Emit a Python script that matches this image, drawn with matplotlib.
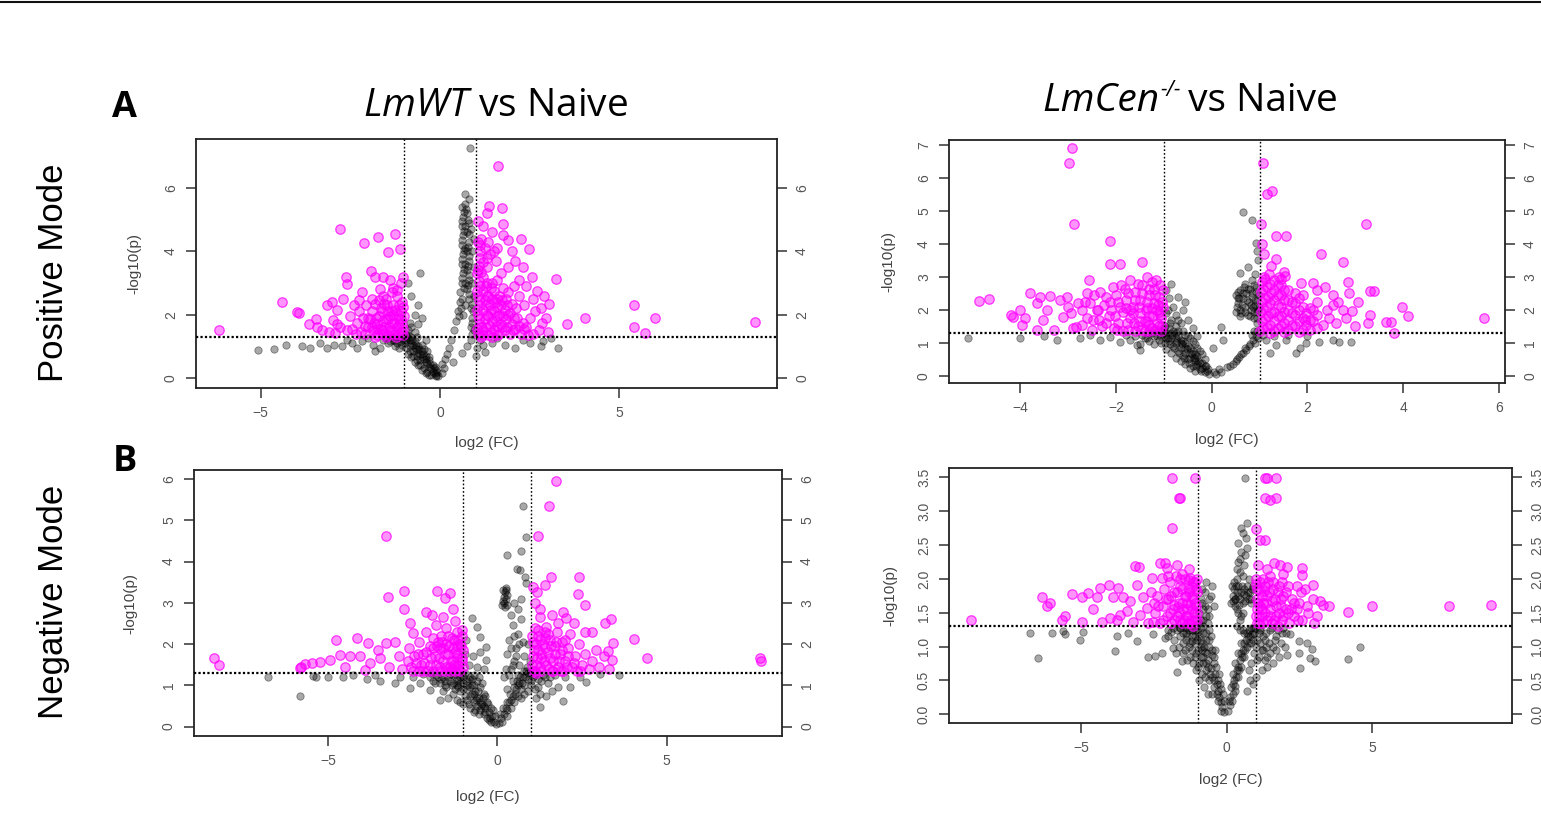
import matplotlib
matplotlib.use("Agg")
import matplotlib.pyplot as plt
from matplotlib.lines import Line2D
from matplotlib.ticker import FormatStrFormatter

# ---------------- data (log2 FC, -log10 p) ----------------
# Panel A: LmWT vs Naive, positive mode
pa_pink = [(-6.17,1.52),(-4.4,2.39),(-3.98,2.07),(-3.92,2.05),(-3.65,1.7),(-3.45,1.85),(-3.43,1.6),(-3.16,2.3),(-3.02,2.39),(-2.88,1.7),
 (-2.79,4.7),(-2.11,4.27),(-1.72,4.45),(-1.25,4.54),(-1.46,3.97),(-1.11,4.06),(-1.02,3.2),(-2.62,3.18),(-2.6,2.97),(-1.93,3.39),
 (-1.81,3.18),(-1.58,3.2),(-1.39,3.1),(-2.18,2.73),(-1.67,2.81),(-1.21,2.78),(-2.88,2.15),(-2.69,2.5),(-2.41,2.3),(-2.27,2.46),
 (-2.51,1.94),(-2.97,1.83),(-2.78,1.62),(-2.32,1.73),(-2.92,1.41),(-3.3,1.5),(-3.1,1.45),(-2.6,1.5),(-2.45,1.55),(-2.2,1.45),
 (-2.1,1.4),(-2.0,1.6),(-1.95,1.85),(-1.9,2.1),(-1.85,1.5),(-1.8,2.35),(-1.75,1.7),(-1.7,1.95),(-1.65,2.2),(-1.6,1.4),
 (-1.55,1.6),(-1.5,1.85),(-1.5,2.5),(-1.45,2.1),(-1.4,1.5),(-1.35,1.75),(-1.3,2.0),(-1.3,2.3),(-1.25,1.4),(-1.2,1.6),
 (-1.2,2.6),(-1.15,1.85),(-1.1,2.1),(-1.1,1.45),(-1.05,1.7),(-1.05,2.4),(-1.02,1.35),(-1.0,1.95),(-1.35,2.7),(-1.6,2.6),
 (-1.9,2.5),(-2.05,2.3),(-1.75,1.35),(-1.15,2.3),(-1.45,1.35),(-1.25,2.15),(-1.55,2.35),(-1.85,1.75),(-2.15,1.9),(-1.65,1.55),
 (-1.1,3.0),(-1.3,2.85),(-1.7,2.45),(-1.4,1.95),
 (-1.03,1.55),(-1.08,1.85),(-1.03,2.25),(-1.18,1.4),(-1.15,1.7),(-1.18,2.0),(-1.3,1.45),(-1.28,1.75),(-1.33,2.1),(-1.42,1.6),
 (-1.45,1.85),(-1.48,2.3),(-1.58,1.5),(-1.6,1.8),(-1.62,2.1),(-1.72,1.55),(-1.78,1.9),(-1.9,1.6),(-2.0,1.9),(-2.1,1.65),
 (-1.22,1.3),(-1.5,1.3),(-1.8,1.3),(-2.25,2.1),(-2.35,1.4),
 (1.61,6.69),(1.37,5.43),(1.72,5.36),(1.3,5.2),(1.75,4.85),(2.26,4.38),(2.48,4.06),(1.75,4.5),(3.23,3.11),(3.53,1.69),
 (3.04,2.32),(5.41,2.3),(5.41,1.62),(5.72,1.43),(5.98,1.88),(8.78,1.76),(4.05,1.88),(2.95,1.88),(3.02,1.45),(2.75,1.5),
 (2.6,1.4),(1.9,4.35),(2.1,3.7),(2.0,4.0),(2.3,3.5),(2.55,3.2),(2.4,2.9),(2.7,2.75),(2.6,2.5),(2.8,2.2),
 (2.9,2.6),(2.5,1.9),(2.65,2.1),(2.35,2.3),(2.2,2.6),(2.4,1.6),(2.85,1.75),(2.2,3.1),(1.9,3.5),(2.05,2.9),
 (1.6,4.1),(1.45,4.6),(1.2,4.8),(1.15,4.4),(1.25,4.1),(1.4,3.9),(1.55,3.7),(1.1,3.8),(1.3,3.5),(1.7,3.3),
 (1.2,3.2),(1.45,3.0),(1.05,1.4),(1.1,1.7),(1.05,2.0),(1.1,2.3),(1.05,2.6),(1.1,2.9),(1.2,1.5),(1.25,1.85),
 (1.2,2.15),(1.25,2.45),(1.2,2.75),(1.35,1.35),(1.4,1.65),(1.35,1.95),(1.4,2.3),(1.35,2.6),(1.5,1.5),(1.55,1.8),
 (1.5,2.1),(1.55,2.4),(1.5,2.75),(1.65,1.4),(1.7,1.7),(1.65,2.0),(1.7,2.3),(1.65,2.6),(1.8,1.5),(1.85,1.85),
 (1.8,2.15),(1.85,2.5),(1.95,1.4),(2.0,1.7),(1.95,2.05),(2.0,2.35),(2.1,1.55),(2.15,1.9),(2.25,1.4),(2.3,1.75),
 (1.75,2.85),(1.6,3.1),(1.3,3.0),(1.9,2.7),(1.15,1.3),(1.45,1.3),(2.45,1.35),(1.05,4.95),(1.1,4.2),(1.05,3.4),
 (1.02,1.55),(1.08,1.85),(1.02,2.15),(1.08,2.45),(1.02,2.75),(1.08,3.05),(1.02,3.3),(1.08,3.55),(1.15,3.35),(1.18,1.35),
 (1.15,1.6),(1.28,1.6),(1.3,2.0),(1.28,2.3),(1.3,2.6),(1.28,2.9),(1.42,1.45),(1.45,1.8),(1.42,2.15),(1.45,2.5),
 (1.42,2.85),(1.58,1.35),(1.6,1.65),(1.58,1.95),(1.6,2.25),(1.58,2.5),(1.72,1.6),(1.75,1.95),(1.72,2.45),(1.88,1.6),
 (1.9,2.0),(1.88,2.3),(2.02,1.5),(2.05,1.9),(2.12,2.2),(2.2,1.65),(2.35,1.55),(1.12,4.0),(1.2,3.65),(1.05,4.3),
 (1.35,4.3),(1.5,4.0),(1.3,3.8)]
pa_gray = [(-0.05,0.05),(-0.1,0.1),(-0.15,0.15),(-0.2,0.2),(-0.1,0.25),(-0.25,0.3),(-0.3,0.35),(-0.2,0.4),(-0.35,0.45),(-0.4,0.5),
 (-0.3,0.55),(-0.45,0.6),(-0.5,0.65),(-0.4,0.7),(-0.55,0.75),(-0.6,0.8),(-0.5,0.85),(-0.65,0.9),(-0.7,0.95),(-0.6,1.0),
 (-0.75,1.05),(-0.8,1.1),(-0.7,1.15),(-0.85,1.2),(-0.9,1.25),(-0.8,1.3),(-0.95,1.35),(-1.0,1.2),(-1.1,1.3),(-1.05,1.05),
 (-0.95,0.95),(-0.85,0.85),(-0.75,0.7),(-0.65,0.55),(-0.55,0.4),(-0.45,0.3),(-0.35,0.2),(-0.25,0.1),(-1.2,1.1),(-1.3,1.2),
 (-1.15,0.95),(-1.4,1.15),(-1.25,1.0),(-0.9,1.5),(-0.8,1.6),(-0.7,1.45),(-0.6,1.7),(-0.85,1.75),(-0.5,1.9),(-0.7,2.0),
 (-0.6,2.3),(-0.8,2.6),(-0.55,3.3),(-0.9,3.0),(-0.15,0.35),(-0.3,0.65),(-0.5,1.05),(-0.4,1.2),(-0.65,1.3),
 (-0.08,0.2),(-0.18,0.3),(-0.12,0.05),(-0.28,0.45),(-0.38,0.6),(-0.48,0.75),(-0.58,0.9),(-0.68,1.05),(-0.78,1.2),(-0.88,1.35),
 (-0.98,1.1),(-1.08,1.15),(-0.9,0.75),(-0.8,0.65),(-0.7,0.5),(-0.6,0.4),(-0.5,0.25),(-0.4,0.15),(-0.3,0.08),(-0.55,0.55),
 (-0.65,0.7),(-0.75,0.85),(-0.85,1.0),(-0.95,1.2),(-1.15,1.25),(-1.35,1.3),(-1.25,1.15),(-1.5,1.25),(-0.45,0.9),(-0.35,0.85),
 (-5.06,0.87),(-4.63,0.9),(-4.28,1.05),(-3.85,1.0),(-3.63,0.95),(-3.35,1.1),(-3.16,0.95),(-2.95,1.05),(-2.74,1.0),(-2.45,1.1),
 (-2.31,0.95),(-2.17,1.15),(-1.88,1.05),(-1.67,0.95),(-1.45,1.1),(-1.6,1.2),(-2.0,1.25),(-2.6,1.2),(-1.8,0.85),
 (0.05,0.15),(0.1,0.3),(0.05,0.45),(0.15,0.6),(0.2,0.75),(0.35,0.5),(0.25,0.95),(0.3,1.2),(0.4,1.5),(0.45,1.8),
 (0.5,2.1),(0.55,2.4),(0.6,0.8),(0.75,1.0),(0.85,1.2),
 (0.55,2.7),(0.6,3.0),(0.65,3.3),(0.6,3.6),(0.65,3.9),(0.6,4.2),(0.65,4.5),(0.6,4.8),(0.65,5.1),(0.6,5.4),
 (0.7,5.5),(0.75,5.2),(0.8,4.9),(0.75,4.6),(0.8,4.3),(0.75,4.0),(0.8,3.7),(0.75,3.4),(0.8,3.1),(0.75,2.8),
 (0.8,2.5),(0.85,2.2),(0.9,1.9),(0.85,1.6),(0.9,1.4),(0.95,2.6),(0.9,3.0),(0.95,3.5),(0.9,4.0),(0.95,4.4),
 (0.85,4.7),(0.7,5.8),(0.8,5.65),(0.83,7.25),(0.7,2.3),(0.65,2.0),(0.7,4.1),(0.7,3.6),(0.7,4.8),(0.7,3.0),
 (0.62,2.5),(0.68,2.85),(0.62,3.15),(0.68,3.45),(0.62,3.75),(0.68,4.05),(0.62,4.35),(0.68,4.65),(0.62,4.95),(0.68,5.25),
 (0.72,5.35),(0.78,5.0),(0.82,4.55),(0.78,4.15),(0.82,3.85),(0.78,3.55),(0.82,3.25),(0.78,2.95),(0.82,2.65),(0.88,2.35),
 (0.92,2.1),(0.88,1.75),(0.95,1.5),(0.58,2.2),(0.52,1.95),
 (1.03,0.95),(1.25,0.83),(1.46,1.1),(1.81,1.05),(2.1,0.95),(2.52,1.1),(2.8,1.0),(3.3,0.95),(2.87,1.15),(1.1,1.2),
 (1.0,0.7),(1.2,1.05),(1.6,1.25),(2.3,1.2),(3.1,1.25)]

# Panel B: LmCen-/- vs Naive, positive mode
pb_pink = [(-4.86,2.28),(-4.65,2.32),(-4.2,1.85),(-4.15,1.79),(-4.01,1.99),(-3.9,1.74),(-3.97,1.54),(-3.8,2.5),(-3.66,2.2),(-3.59,2.4),
 (-3.38,2.42),(-3.45,1.99),(-3.52,1.69),(-3.17,2.3),(-3.03,2.4),(-3.0,2.1),(-3.1,1.79),(-2.93,1.9),(-3.66,1.39),(-2.83,1.49),
 (-2.72,1.54),(-2.65,2.25),(-2.55,2.2),(-2.34,2.55),(-2.37,1.99),(-2.48,1.69),(-2.2,2.4),(-2.06,2.71),(-1.71,2.91),(-1.36,3.01),
 (-1.16,2.91),(-1.92,2.1),(-2.91,6.91),(-2.985,6.47),(-2.88,4.6),(-2.12,4.1),(-2.12,3.39),(-1.91,3.39),(-1.455,3.44),(-2.57,2.9),
 (-3.3,1.4),(-2.9,1.45),(-2.6,1.75),(-2.7,2.0),(-2.45,2.45),(-2.3,1.5),(-2.25,2.15),(-2.15,1.8),(-2.05,1.45),(-2.0,2.45),
 (-1.95,1.6),(-1.9,2.75),(-1.85,1.95),(-1.8,2.3),(-1.75,1.4),(-1.7,1.75),(-1.65,2.1),(-1.6,2.55),(-1.55,1.5),(-1.5,1.9),
 (-1.5,2.3),(-1.45,2.75),(-1.4,1.35),(-1.4,1.65),(-1.35,2.05),(-1.3,2.45),(-1.3,1.8),(-1.25,1.45),(-1.2,2.2),(-1.2,2.65),
 (-1.15,1.6),(-1.1,1.95),(-1.1,2.4),(-1.05,1.35),(-1.05,1.75),(-1.02,2.1),(-1.02,2.6),(-1.6,1.35),(-1.85,1.35),(-2.1,2.0),
 (-1.25,2.85),(-1.55,2.8),(-1.75,2.5),(-1.1,1.5),(-1.3,1.55),(-1.5,1.65),(-1.7,2.0),(-1.15,2.0),(-1.35,2.25),(-1.95,2.25),
 (-2.35,1.7),
 (-1.03,1.5),(-1.08,1.85),(-1.03,2.25),(-1.08,2.75),(-1.18,1.4),(-1.22,1.8),(-1.18,2.45),(-1.32,1.35),(-1.35,1.65),(-1.38,2.0),
 (-1.32,2.65),(-1.48,1.4),(-1.52,2.1),(-1.45,2.5),(-1.62,1.6),(-1.65,1.9),(-1.6,2.3),(-1.78,1.6),(-1.8,2.05),(-1.82,2.65),
 (-1.98,1.4),(-2.02,1.8),(-2.12,2.25),(-2.2,1.6),(-2.4,2.0),(-2.5,1.4),(-2.6,2.5),(-2.8,2.2),(-1.12,2.15),(-1.25,2.05),
 (1.07,6.47),(1.27,5.62),(1.16,5.51),(1.04,4.6),(1.34,4.25),(1.56,4.25),(3.23,4.6),(2.28,3.69),(2.74,3.44),(1.34,3.54),
 (1.25,3.33),(2.85,2.86),(3.3,2.57),(3.4,2.57),(2.87,2.5),(3.65,1.64),(3.75,1.64),(3.26,1.59),(3.3,1.85),(3.81,1.31),
 (2.94,1.98),(2.74,2.0),(2.53,2.45),(2.36,2.71),(2.11,2.81),(1.87,2.81),(1.94,1.69),(2.32,1.54),(2.6,1.59),(2.05,1.39),
 (2.53,2.15),(1.52,3.16),(1.54,3.03),(3.97,2.1),(4.1,1.8),(5.7,1.75),(1.05,4.0),(1.1,3.7),(1.45,2.95),(1.1,3.0),
 (1.02,1.35),(1.05,1.65),(1.03,1.95),(1.05,2.25),(1.03,2.55),(1.05,2.85),(1.15,1.45),(1.18,1.8),(1.15,2.1),(1.18,2.4),
 (1.15,2.7),(1.3,1.35),(1.3,1.65),(1.3,1.95),(1.3,2.3),(1.3,2.6),(1.3,2.9),(1.45,1.5),(1.45,1.8),(1.45,2.1),
 (1.45,2.45),(1.45,2.75),(1.6,1.4),(1.6,1.7),(1.6,2.0),(1.6,2.3),(1.6,2.6),(1.75,1.5),(1.75,1.85),(1.75,2.2),
 (1.75,2.5),(1.9,1.4),(1.9,1.75),(1.9,2.1),(1.9,2.45),(2.05,1.7),(2.05,2.05),(2.2,1.45),(2.2,1.85),(2.2,2.25),
 (2.4,2.0),(2.45,1.75),(2.65,2.25),(2.8,1.75),(3.0,1.5),(3.05,2.25),(2.2,2.6),(1.22,1.3),(1.52,1.33),(1.82,1.33),
 (1.08,1.45),(1.12,1.75),(1.08,2.05),(1.12,2.35),(1.08,2.65),(1.12,2.95),(1.22,1.55),(1.25,1.9),(1.22,2.2),(1.25,2.5),
 (1.22,2.8),(1.38,1.45),(1.38,1.8),(1.38,2.15),(1.38,2.45),(1.38,2.75),(1.52,1.6),(1.52,1.95),(1.52,2.3),(1.52,2.6),
 (1.68,1.55),(1.68,1.9),(1.68,2.25),(1.82,1.65),(1.82,2.0),(1.82,2.35),(1.98,1.55),(1.98,1.9),(2.12,1.65),(2.12,2.0),
 (1.2,3.1),(1.4,3.0)]
pb_gray = [(-0.05,0.05),(-0.1,0.15),(-0.15,0.1),(-0.2,0.25),(-0.25,0.2),(-0.3,0.35),(-0.2,0.4),(-0.35,0.45),(-0.4,0.3),(-0.45,0.55),
 (-0.3,0.6),(-0.5,0.5),(-0.55,0.7),(-0.4,0.75),(-0.6,0.6),(-0.65,0.85),(-0.5,0.9),(-0.7,0.75),(-0.75,1.0),(-0.6,1.05),
 (-0.8,0.9),(-0.85,1.15),(-0.7,1.2),(-0.9,1.05),(-0.95,1.3),(-0.8,1.35),(-1.0,1.2),(-1.05,1.4),(-1.1,1.1),(-0.9,1.45),
 (-0.75,1.5),(-0.6,1.35),(-0.45,1.15),(-0.35,0.95),(-0.25,0.75),(-0.15,0.5),(-0.55,1.25),(-0.65,1.6),(-0.85,1.7),(-0.95,1.9),
 (-0.8,2.1),(-0.9,2.35),(-0.7,2.4),(-0.95,2.6),(-0.6,2.0),(-0.5,1.7),(-0.4,1.45),(-0.75,1.85),(-0.55,2.25),(-0.85,2.8),
 (-0.3,1.2),(-1.2,1.2),(-1.3,1.05),(-1.4,1.15),(-1.5,0.95),(-1.2,0.95),(-1.6,1.2),
 (-0.08,0.2),(-0.12,0.3),(-0.22,0.15),(-0.28,0.45),(-0.32,0.3),(-0.38,0.55),(-0.42,0.65),(-0.48,0.4),(-0.52,0.8),(-0.58,0.55),
 (-0.62,0.95),(-0.68,0.7),(-0.72,1.05),(-0.78,0.85),(-0.82,1.25),(-0.88,0.95),(-0.92,1.15),(-0.98,1.0),(-1.02,1.3),(-1.08,1.25),
 (-1.15,1.35),(-0.65,1.1),(-0.45,0.85),(-0.35,0.65),(-0.55,1.0),(-0.75,1.3),(-0.98,1.5),(-0.88,1.6),(-0.7,1.7),(-0.92,2.0),
 (-0.15,0.3),(-0.25,0.4),(-0.35,0.55),(-0.45,0.7),(-0.55,0.85),(-0.65,1.0),(-0.75,1.15),(-0.85,1.3),(-0.95,1.15),(-1.05,1.0),
 (-0.95,0.8),(-0.85,0.7),(-0.75,0.55),(-0.65,0.45),(-0.55,0.35),(-0.45,0.25),(-0.35,0.15),(-1.1,1.35),(-1.25,1.3),(-1.0,1.45),
 (-0.7,1.35),(-0.5,1.2),(-0.4,1.05),(-0.3,0.85),(-0.2,0.65),(-1.3,1.3),(-1.45,1.25),(-1.15,1.2),
 (-5.1,1.15),(-3.24,1.1),(-2.76,1.15),(-2.34,1.09),(-2.13,1.19),(-1.92,1.04),(-1.71,1.09),(-1.57,0.93),(-1.36,1.14),(-1.5,0.78),
 (-3.5,1.2),(-4.0,1.15),(-2.55,1.25),(-1.8,1.25),
 (0.05,0.1),(0.15,0.2),(0.31,0.27),(0.45,0.37),(0.58,0.58),(0.72,0.78),(0.86,1.09),(0.65,0.7),(0.8,0.95),(0.92,1.2),
 (0.24,1.09),(0.2,1.49),(0.03,0.83),(0.5,0.45),(0.95,1.35),(0.85,1.25),
 (0.1,0.05),(0.2,0.12),(0.38,0.3),(0.52,0.5),(0.62,0.65),(0.7,0.85),(0.78,0.9),(0.9,1.0),(0.96,1.15),(0.88,1.35),
 (0.5,1.95),(0.55,2.2),(0.5,2.45),(0.6,2.6),(0.62,1.9),(0.65,2.35),(0.7,2.1),(0.72,2.5),(0.75,1.85),(0.78,2.25),
 (0.8,2.65),(0.82,2.0),(0.85,2.4),(0.88,1.75),(0.9,2.15),(0.92,2.55),(0.95,1.95),(0.95,2.3),(0.95,1.6),(0.7,2.8),
 (0.85,2.9),(0.9,3.1),(0.6,2.0),(0.68,2.7),(0.55,2.55),(0.88,2.75),(0.98,2.1),(0.58,2.35),
 (0.52,2.1),(0.56,2.35),(0.6,1.8),(0.64,2.15),(0.66,2.5),(0.7,1.95),(0.74,2.3),(0.76,2.65),(0.8,1.8),(0.82,2.15),
 (0.84,2.5),(0.88,1.95),(0.9,2.3),(0.92,2.7),(0.96,2.0),(0.98,2.45),(0.94,1.75),(0.86,2.1),
 (0.65,4.98),(0.84,4.73),(0.93,4.02),(0.97,3.52),(0.76,3.31),(0.59,3.11),(0.95,3.8),
 (1.14,1.09),(1.35,0.93),(1.56,1.09),(1.84,0.83),(1.98,0.99),(2.25,1.04),(2.53,1.09),(2.67,1.04),(2.92,1.04),(1.77,0.68),
 (1.21,0.68),(1.07,1.24),(1.3,1.2),(1.6,1.25),(2.0,1.2)]

# Panel C: LmWT vs Naive, negative mode
pc_pink = [(-8.35,1.67),(-8.2,1.48),(-5.79,1.45),(-3.29,4.62),(-2.76,3.28),(-1.79,3.29),(-1.4,3.24),(-1.55,3.11),(-3.22,3.15),(-2.76,2.84),
 (-1.3,2.84),(-2.09,2.78),(-1.94,2.7),(-1.6,2.66),(-4.77,2.1),(-4.15,2.14),(-3.81,2.02),(-3.51,1.86),(-4.64,1.74),(-4.35,1.72),
 (-4.05,1.7),(-4.94,1.61),(-5.23,1.57),(-5.48,1.53),(-5.68,1.51),(-5.82,1.41),(-3.76,1.53),(-3.46,1.66),(-3.27,2.02),(-3.02,2.06),
 (-2.58,2.5),(-2.48,2.26),(-4.5,1.45),(-3.9,1.38),(-3.2,1.45),(-2.9,1.7),(-2.8,1.4),(-2.6,1.9),(-2.4,1.55),(-2.3,2.05),
 (-2.2,1.35),(-2.2,1.75),(-2.1,2.3),(-2.0,1.5),(-2.0,1.95),(-1.9,1.35),(-1.9,2.15),(-1.85,1.7),(-1.8,2.45),(-1.7,1.45),
 (-1.7,1.9),(-1.65,2.2),(-1.6,1.6),(-1.55,1.35),(-1.5,2.0),(-1.5,2.4),(-1.45,1.75),(-1.4,1.45),(-1.35,2.15),(-1.3,1.6),
 (-1.3,1.9),(-1.25,1.35),(-1.2,2.3),(-1.2,1.75),(-1.15,1.5),(-1.1,2.0),(-1.1,1.35),(-1.05,1.65),(-1.05,2.2),(-1.02,1.45),
 (-1.02,1.85),(-2.5,1.35),(-2.35,1.75),(-1.75,2.05),(-1.25,2.55),(-2.65,1.6),(-1.4,1.35),(-1.6,1.9),
 (-1.03,1.6),(-1.08,1.95),(-1.03,2.35),(-1.15,1.4),(-1.18,1.65),(-1.15,2.1),(-1.28,1.5),(-1.25,1.8),(-1.28,2.1),(-1.38,1.6),
 (-1.42,1.95),(-1.45,2.2),(-1.52,1.45),(-1.55,1.75),(-1.62,2.05),(-1.68,1.35),(-1.72,1.65),(-1.78,1.95),(-1.82,1.5),(-1.95,1.65),
 (-2.05,1.35),(-2.1,1.8),(-2.25,1.5),(-2.3,1.35),(-2.45,1.7),(-2.55,1.45),(-1.2,1.95),(-1.35,1.4),(-1.9,1.9),(-2.15,1.55),
 (1.73,5.96),(1.53,5.35),(1.19,4.63),(2.41,3.62),(1.57,3.63),(2.39,3.21),(2.58,2.95),(1.42,3.43),(1.06,3.39),(1.16,3.27),
 (3.35,2.6),(3.18,2.52),(2.58,2.3),(2.78,2.28),(4.04,2.12),(4.43,1.67),(3.42,2.02),(3.27,1.82),(3.37,1.62),(1.95,2.78),
 (2.04,2.62),(1.8,2.5),(1.45,2.42),(1.26,2.66),(7.75,1.65),(7.78,1.6),(1.05,1.35),(1.05,1.7),(1.05,2.05),(1.1,2.4),
 (1.15,1.5),(1.2,1.85),(1.2,2.2),(1.3,1.35),(1.3,1.65),(1.35,2.0),(1.4,2.3),(1.45,1.5),(1.5,1.8),(1.55,2.1),
 (1.6,1.35),(1.65,1.6),(1.7,1.95),(1.75,2.3),(1.8,1.45),(1.85,1.75),(1.9,2.05),(1.95,1.35),(2.0,1.6),(2.1,1.9),
 (2.15,2.25),(2.2,1.45),(2.3,1.7),(2.4,2.0),(2.5,1.5),(2.6,1.75),(2.7,1.4),(2.8,1.6),(2.9,1.85),(3.0,1.45),
 (3.15,1.7),(3.3,1.4),(2.45,1.35),(1.1,3.0),(1.25,2.85),(1.6,2.7),(2.25,2.5),(1.15,1.3),
 (1.03,1.5),(1.08,1.85),(1.03,2.2),(1.12,1.35),(1.18,1.65),(1.15,2.0),(1.25,1.45),(1.28,1.75),(1.25,2.1),(1.38,1.6),
 (1.42,1.9),(1.4,2.15),(1.52,1.4),(1.55,1.65),(1.58,1.95),(1.65,1.35),(1.7,1.75),(1.72,2.05),(1.82,1.6),(1.88,1.35),
 (1.92,1.85),(2.05,1.45),(2.1,1.7),(2.25,1.55),(2.35,1.35),(1.2,2.35),(1.5,2.25),(2.0,2.1)]
pc_gray = [(-0.05,0.05),(-0.1,0.12),(-0.2,0.1),(-0.15,0.25),(-0.3,0.2),(-0.25,0.35),(-0.4,0.3),(-0.35,0.45),(-0.5,0.4),(-0.45,0.55),
 (-0.6,0.5),(-0.3,0.6),(-0.55,0.7),(-0.7,0.6),(-0.4,0.8),(-0.65,0.85),(-0.8,0.75),(-0.5,0.95),(-0.75,1.0),(-0.9,0.9),
 (-0.6,1.1),(-0.85,1.15),(-1.0,1.05),(-0.7,1.25),(-0.95,1.3),(-1.1,1.2),(-1.2,1.0),(-1.3,1.25),(-1.4,1.1),(-1.5,0.95),
 (-1.6,1.2),(-1.7,1.05),(-1.8,1.25),(-1.9,1.1),(-2.0,1.2),(-2.2,1.28),(-1.1,0.85),(-1.3,0.8),(-0.9,0.65),(-1.0,0.55),
 (-0.8,0.45),(-0.2,0.45),(-0.55,1.2),(-0.45,1.05),(-0.35,0.75),(-1.45,0.7),(-1.2,0.65),(-1.69,0.65),(-1.99,0.89),(-2.28,1.05),
 (-0.08,0.25),(-0.22,0.2),(-0.12,0.4),(-0.35,0.35),(-0.28,0.55),(-0.48,0.5),(-0.42,0.7),(-0.62,0.65),(-0.58,0.85),(-0.75,0.8),
 (-0.68,1.0),(-0.88,1.0),(-0.82,1.2),(-1.05,1.25),(-1.15,1.1),(-1.25,0.9),(-1.35,1.0),(-1.55,1.1),(-1.75,1.2),(-1.95,1.3),
 (-1.4,1.28),(-1.6,0.85),(-0.95,0.75),(-0.7,0.35),(-0.55,0.3),(-1.1,0.6),(-0.25,0.15),
 (-1.0,1.2),(-1.1,1.05),(-1.2,1.15),(-1.3,1.05),(-1.45,1.2),(-1.55,1.0),(-1.65,1.15),(-1.85,1.05),(-0.9,1.1),(-0.8,0.95),
 (-0.7,0.8),(-0.6,0.7),(-0.5,0.6),(-0.4,0.5),(-1.0,0.9),(-1.15,0.95),(-0.85,0.55),(-0.65,0.4),(-1.25,1.28),(-0.75,1.15),
 (-6.77,1.21),(-5.82,0.73),(-5.35,1.2),(-5.43,1.23),(-4.99,1.19),(-4.54,1.21),(-4.25,1.25),(-3.86,1.15),(-3.46,1.11),(-3.02,1.05),
 (-2.58,0.93),(-2.87,1.21),(-3.6,1.25),(-2.5,1.2),
 (-0.76,2.62),(-0.61,2.42),(-0.51,2.18),(-0.32,1.94),(-0.91,2.1),(-0.71,1.7),(-0.32,1.62),(-0.85,1.5),(-0.6,1.45),(-0.4,1.4),
 (-0.95,1.75),(-0.5,1.8),
 (0.05,0.08),(0.1,0.2),(0.15,0.1),(0.2,0.3),(0.25,0.45),(0.3,0.25),(0.35,0.6),(0.4,0.45),(0.45,0.75),(0.5,0.6),
 (0.55,0.9),(0.6,0.75),(0.65,1.05),(0.7,0.9),(0.75,1.2),(0.8,1.0),(0.85,1.35),(0.9,1.15),(0.95,1.3),(0.45,1.1),
 (0.3,0.9),(0.6,1.25),(0.4,1.4),(0.5,1.6),(0.3,1.75),(0.55,1.9),(0.35,2.1),(0.6,2.25),(0.45,2.45),(0.7,2.6),
 (0.25,1.4),(0.8,1.7),(0.9,2.0),(0.75,2.05),(0.95,1.6),(0.2,1.2),(0.65,1.5),
 (0.08,0.3),(0.18,0.45),(0.28,0.6),(0.38,0.8),(0.48,0.95),(0.58,1.1),(0.68,1.2),(0.78,1.35),(0.88,1.45),(0.35,1.25),
 (0.45,1.5),(0.55,1.7),(0.4,1.9),(0.5,2.2),(0.65,2.0),(0.28,0.4),(0.4,0.65),(0.52,0.8),(0.62,1.0),(0.72,1.05),
 (0.82,1.2),(0.92,1.3),(0.98,1.1),
 (1.0,1.0),(1.1,1.25),(1.2,0.95),(1.3,1.1),(1.4,1.2),(0.9,0.85),(0.8,0.8),(0.7,0.7),(1.25,0.8),(1.55,1.2),
 (0.15,2.95),(0.18,3.05),(0.2,3.15),(0.22,3.25),(0.25,3.3),(0.2,3.0),(0.25,3.1),(0.28,3.2),(0.3,2.95),(0.18,3.3),
 (0.23,2.9),(0.27,3.35),
 (0.75,5.35),(0.3,4.16),(0.69,4.26),(0.84,4.6),(0.57,3.82),(0.67,3.79),(0.81,3.63),(0.86,3.47),(0.5,3.0),(0.6,2.85),
 (0.4,2.7),(0.7,3.1),
 (1.95,0.63),(2.14,0.97),(2.63,1.09),(3.03,1.27),(2.44,1.21),(1.8,0.97),(1.45,0.73),(1.26,0.48),(3.6,1.25),(1.1,0.9),
 (1.2,1.15),(1.5,1.05),(1.7,1.25),(2.0,1.2),(1.35,1.25),(1.05,1.2),(1.6,0.85),(1.15,0.7)]

# Panel D: LmCen-/- vs Naive, negative mode
pd_pink = [(-8.79,1.4),(-6.36,1.74),(-6.07,1.64),(-6.18,1.6),(-5.67,1.4),(-5.55,1.45),(-5.33,1.78),(-4.98,1.74),(-4.75,1.79),(-4.47,1.74),
 (-4.35,1.86),(-4.06,1.91),(-3.72,1.87),(-3.89,1.74),(-3.55,1.74),(-4.58,1.55),(-4.98,1.36),(-4.29,1.36),(-4.01,1.42),(-3.66,1.47),
 (-3.32,1.67),(-3.15,2.19),(-3.03,2.17),(-3.09,1.91),(-2.86,1.74),(-2.75,1.57),(-2.58,2.01),(-2.29,2.23),(-2.12,2.23),(-2.06,2.16),
 (-2.23,2.01),(-1.54,2.07),(-1.26,2.01),(-2.52,1.37),(-3.21,1.37),(-2.98,1.47),(-3.44,1.52),(-3.78,1.4),(-1.89,3.49),(-1.09,3.49),
 (-1.64,3.2),(-1.6,3.2),(-1.89,2.75),
 (-2.6,1.8),(-2.45,1.5),(-2.4,1.75),(-2.3,1.35),(-2.2,1.6),(-2.15,1.85),(-2.05,1.45),(-2.0,1.7),(-1.95,1.95),(-1.9,1.35),
 (-1.85,1.55),(-1.8,1.8),(-1.75,2.05),(-1.7,1.45),(-1.65,1.65),(-1.6,1.9),(-1.55,1.35),(-1.5,1.55),(-1.45,1.75),(-1.45,2.0),
 (-1.4,1.45),(-1.35,1.65),(-1.3,1.85),(-1.25,1.35),(-1.2,1.55),(-1.2,1.75),(-1.15,1.95),(-1.1,1.4),(-1.1,1.65),(-1.05,1.85),
 (-1.03,1.5),(-1.03,2.0),(-1.3,2.15),(-1.7,2.2),(-2.0,2.05),(-1.6,1.5),(-1.9,1.75),(-1.35,1.45),(-1.15,1.3),(-2.7,1.35),
 (-1.02,1.4),(-1.05,1.6),(-1.02,1.8),(-1.08,1.95),(-1.12,1.5),(-1.15,1.7),(-1.18,1.88),(-1.22,1.4),(-1.25,1.62),(-1.28,1.8),
 (-1.32,1.35),(-1.38,1.55),(-1.4,1.75),(-1.48,1.4),(-1.52,1.65),(-1.55,1.85),(-1.62,1.4),(-1.68,1.58),(-1.72,1.8),(-1.8,1.4),
 (-1.82,1.62),(-1.95,1.5),(-2.1,1.7),(-2.2,1.4),(-2.35,1.6),(-1.3,1.98),(-1.6,2.0),(-2.5,1.65),
 (1.3,3.49),(1.4,3.49),(1.7,3.49),(1.32,3.19),(1.49,3.16),(1.7,3.2),(1.0,2.74),(1.15,2.58),(1.32,2.57),(4.98,1.6),
 (4.16,1.51),(3.53,1.6),(3.21,1.67),(2.98,1.91),(2.58,2.16),(2.58,2.06),(2.07,2.17),(1.84,2.21),(1.61,2.23),(1.95,2.07),
 (1.38,2.14),(1.09,2.21),(7.63,1.6),(9.08,1.61),(3.3,1.62),(3.1,1.45),(2.95,1.7),(2.8,1.5),(2.7,1.85),(2.6,1.4),
 (2.5,1.65),(2.4,1.9),(2.3,1.45),(2.25,1.7),(2.15,1.35),(2.1,1.9),(2.05,1.55),(1.95,1.75),(1.9,1.4),(1.85,1.6),
 (1.8,1.9),(1.7,1.45),(1.65,1.7),(1.6,1.95),(1.55,1.35),(1.5,1.55),(1.45,1.8),(1.4,1.4),(1.35,1.65),(1.3,1.9),
 (1.25,1.35),(1.2,1.55),(1.2,1.75),(1.15,1.95),(1.1,1.45),(1.08,1.65),(1.05,1.85),(1.03,1.35),(1.03,1.55),(1.02,2.0),
 (1.5,2.05),(2.2,1.55),(2.75,1.6),(2.4,1.55),(1.75,1.3),(3.0,1.35),
 (1.02,1.45),(1.05,1.7),(1.02,1.92),(1.12,1.35),(1.15,1.6),(1.12,1.85),(1.22,1.45),(1.25,1.65),(1.28,1.82),(1.32,1.5),
 (1.38,1.75),(1.42,1.95),(1.48,1.45),(1.55,1.68),(1.58,1.85),(1.62,1.4),(1.7,1.6),(1.75,1.8),(1.8,1.5),(1.88,1.7),
 (1.95,1.45),(2.05,1.8),(2.12,1.5),(2.3,1.65),(2.45,1.4),(2.55,1.8),(1.25,2.0),(1.9,1.95)]
pd_gray = [(-0.1,0.03),(-0.15,0.1),(-0.2,0.18),(-0.1,0.2),(-0.25,0.25),(-0.3,0.35),(-0.2,0.38),(-0.35,0.45),(-0.45,0.4),(-0.3,0.5),
 (-0.5,0.55),(-0.4,0.6),(-0.6,0.5),(-0.55,0.68),(-0.7,0.65),(-0.45,0.75),(-0.65,0.8),(-0.8,0.75),(-0.5,0.88),(-0.75,0.92),
 (-0.9,0.85),(-0.6,1.0),(-0.85,1.05),(-1.0,0.95),(-0.7,1.1),(-0.95,1.15),(-1.1,1.05),(-0.8,1.2),(-1.05,1.25),(-1.2,1.15),
 (-1.3,1.25),(-1.4,1.1),(-1.5,1.2),(-1.6,1.28),(-0.9,1.28),(-0.35,0.3),(-0.75,0.55),(-1.2,0.95),(-1.1,0.85),(-0.4,0.95),
 (-0.55,1.15),(-0.9,1.4),(-0.8,1.55),(-0.7,1.45),(-0.6,1.7),(-0.75,1.8),(-0.5,1.9),(-0.85,1.65),(-0.65,1.35),
 (-0.12,0.3),(-0.22,0.45),(-0.28,0.6),(-0.38,0.7),(-0.42,0.85),(-0.52,0.95),(-0.58,0.6),(-0.62,1.1),(-0.68,0.9),(-0.72,1.2),
 (-0.78,1.0),(-0.82,1.3),(-0.88,1.1),(-0.98,1.22),(-1.02,1.1),(-1.15,1.25),(-1.25,1.05),(-1.35,1.15),(-0.3,0.2),(-0.45,0.5),
 (-0.65,0.7),(-0.85,0.95),(-1.05,0.9),(-0.18,0.05),(-0.5,0.3),(-0.95,0.75),(-1.45,1.28),(-0.6,1.25),
 (-1.1,1.15),(-1.2,1.25),(-1.3,1.0),(-1.4,1.2),(-1.5,1.05),(-1.6,1.15),(-1.7,1.25),(-1.8,1.1),(-1.9,1.22),(-2.0,1.15),
 (-1.25,0.85),(-1.45,0.95),(-1.65,1.0),(-1.15,0.75),(-1.35,0.8),(-1.05,0.65),(-1.55,0.78),(-1.75,0.9),(-1.2,1.08),(-1.6,1.28),
 (-1.35,1.27),(-1.85,1.28),(-1.0,0.7),(-0.95,0.5),(-0.85,0.6),(-0.78,0.4),(-0.65,0.3),(-0.7,0.75),(-0.9,1.0),(-0.8,0.85),
 (-0.95,1.5),(-0.9,1.7),(-0.85,1.85),(-0.75,1.6),(-0.7,1.95),(-0.65,1.55),(-0.55,1.75),(-0.95,1.35),(-0.8,1.4),(-0.6,1.45),
 (-0.45,1.6),
 (-6.76,1.2),(-6.47,0.83),(-6.01,1.2),(-5.61,1.23),(-5.55,1.18),(-5.04,1.1),(-4.92,1.22),(-3.84,0.93),(-3.78,1.15),(-3.38,1.2),
 (-3.09,1.08),(-2.69,0.84),(-2.46,0.86),(-2.23,0.9),(-2.52,1.18),(-2.12,1.13),(-1.72,0.63),(-1.83,0.98),(-2.0,1.25),(-1.5,0.9),
 (0.05,0.05),(0.12,0.14),(0.1,0.25),(0.2,0.3),(0.15,0.4),(0.25,0.5),(0.3,0.42),(0.2,0.6),(0.35,0.65),(0.4,0.55),
 (0.3,0.75),(0.45,0.8),(0.5,0.7),(0.4,0.9),(0.55,0.95),(0.6,0.85),(0.5,1.05),(0.65,1.1),(0.7,1.0),(0.6,1.2),
 (0.75,1.25),(0.8,1.15),(0.9,1.28),(0.85,1.05),(0.95,1.2),(0.45,1.25),(0.35,1.3),(0.4,1.5),(0.3,1.7),(0.35,2.0),
 (0.4,2.25),(0.45,2.1),(0.25,1.95),(0.5,1.45),(0.63,3.49),(0.69,2.83),(0.4,2.53),(0.57,2.68),(0.63,2.36),(0.5,2.4),
 (0.08,0.2),(0.18,0.2),(0.22,0.45),(0.28,0.35),(0.32,0.55),(0.38,0.7),(0.42,0.65),(0.48,0.9),(0.52,0.85),(0.58,1.05),
 (0.62,0.95),(0.68,1.2),(0.72,1.15),(0.78,1.05),(0.82,1.28),(0.88,1.18),(0.92,1.1),(0.98,1.28),(0.55,1.25),(0.45,1.4),
 (0.35,1.55),(0.55,1.5),
 (1.05,1.1),(1.15,1.25),(1.25,0.95),(1.35,1.2),(1.45,1.05),(1.55,1.28),(1.65,1.1),(1.75,1.25),(1.85,1.05),(1.95,1.28),
 (2.05,1.2),(1.1,0.85),(1.3,0.8),(1.5,0.9),(1.7,0.95),(1.2,0.65),(1.4,0.7),(1.0,0.55),(0.9,0.45),(0.8,0.5),
 (0.7,0.35),(0.95,0.9),(0.85,0.75),(1.6,0.75),(1.8,0.85),(2.0,1.0),(1.15,1.05),(1.35,1.0),(1.25,1.15),(0.75,0.65),
 (0.6,2.2),(0.55,2.05),(0.7,2.45),(0.45,2.3),(0.65,2.6),(0.5,2.75),(0.75,2.0),(0.35,2.15),
 (0.15,1.65),(0.2,1.75),(0.25,1.85),(0.3,1.7),(0.35,1.8),(0.4,1.9),(0.45,1.7),(0.5,1.8),(0.55,1.65),(0.6,1.85),
 (0.65,1.75),(0.7,1.9),(0.75,1.7),(0.8,1.8),(0.85,1.65),(0.9,1.9),(0.18,1.9),(0.28,1.6),
 (0.22,1.68),(0.32,1.9),(0.42,1.62),(0.52,1.9),(0.62,1.68),(0.72,1.8),(0.82,1.7),(0.88,1.85),(0.38,1.75),(0.58,1.78),
 (2.47,1.08),(2.75,1.06),(2.92,0.96),(2.47,0.9),(2.87,0.83),(3.04,0.78),(2.52,0.68),(4.58,1.0),(4.18,0.82),(2.07,0.88),
 (2.18,1.18),(1.1,1.2),(1.3,1.1),(1.5,1.25),(1.7,1.15),(1.9,1.2),(1.2,0.95),(1.4,0.85),(1.0,1.0),(1.6,1.0),
 (1.15,1.28),(1.05,0.8)]

fc_cut = [-1, 1]
p_cut = 1.3

title_left = r"$\mathit{LmWT}$ vs Naive"
title_right_parts = ["LmCen", "-/-", " vs Naive"]
row_labels = ["Positive Mode", "Negative Mode"]
panel_letters = ["A", "B"]
x_label = "log2 (FC)"
y_label = "-log10(p)"

# ---------------- figure ----------------
W, H = 1541, 832
plt.rcParams['mathtext.fontset'] = 'custom'
plt.rcParams['mathtext.it'] = 'Open Sans:italic'
plt.rcParams['mathtext.rm'] = 'Open Sans'
fig = plt.figure(figsize=(W/100, H/100), dpi=100)
fig.patch.set_facecolor('white')

def fx(px): return px / W
def fy(py): return 1 - py / H

def make_ax(l, t, r, b):
    return fig.add_axes([l/W, 1-b/H, (r-l)/W, (b-t)/H])

panels = [
    dict(box=(196,139,777,388), xlim=(-6.8,9.39), ylim=(-0.32,7.55), xt=[-5,0,5], yt=[0,2,4,6], fmt=None,
         data=(pa_gray, pa_pink), ylx=134, xly=443),
    dict(box=(949,140,1505,383), xlim=(-5.49,6.13), ylim=(-0.22,7.16), xt=[-4,-2,0,2,4,6], yt=list(range(8)), fmt=None,
         data=(pb_gray, pb_pink), ylx=888, xly=440),
    dict(box=(194,470,782,736), xlim=(-8.95,8.4), ylim=(-0.23,6.22), xt=[-5,0,5], yt=list(range(7)), fmt=None,
         data=(pc_gray, pc_pink), ylx=130, xly=797),
    dict(box=(949,468,1512,723), xlim=(-9.54,9.8), ylim=(-0.13,3.64), xt=[-5,0,5],
         yt=[0,0.5,1,1.5,2,2.5,3,3.5], fmt='%.1f', data=(pd_gray, pd_pink), ylx=890, xly=780),
]

lab_font = 'Liberation Sans'
for p in panels:
    l, t, r, b = p['box']
    ax = make_ax(l, t, r, b)
    g, k = p['data']
    gx, gy = zip(*g)
    kx, ky = zip(*k)
    ax.scatter(gx, gy, s=28, facecolor=(0, 0, 0, 0.34), edgecolor=(0, 0, 0, 0.42), linewidths=0.6, zorder=2)
    ax.scatter(kx, ky, s=46, facecolor=(1, 0, 1, 0.42), edgecolor=(1, 0, 1, 0.75), linewidths=0.9, zorder=3)
    for v in fc_cut:
        ax.axvline(v, color='k', lw=1.0, ls=(0, (1.2, 1.5)), zorder=4)
    ax.axhline(p_cut, color='k', lw=1.6, ls=(0, (1, 1)), zorder=4)
    ax.set_xlim(*p['xlim'])
    ax.set_ylim(*p['ylim'])
    ax.set_xticks(p['xt'])
    ax.set_yticks(p['yt'])
    if p['fmt']:
        ax.yaxis.set_major_formatter(FormatStrFormatter(p['fmt']))
    for s in ax.spines.values():
        s.set_linewidth(1.3)
        s.set_color('#222222')
    ax.tick_params(direction='out', length=7, width=1.1, color='#333333', labelsize=10,
                   labelcolor='#555555', pad=6)
    ax.tick_params(axis='y', left=True, right=True, labelleft=True, labelright=True, labelrotation=90)
    for lab in ax.get_xticklabels():
        lab.set_fontfamily(lab_font)
    for tk in ax.yaxis.get_major_ticks():
        tk.label1.set_fontfamily(lab_font)
        tk.label2.set_fontfamily(lab_font)
        tk.label1.set_va('center')
        tk.label2.set_va('center')
    fig.text(fx((l + r) / 2), fy(p['xly']), x_label, ha='center', va='center', fontsize=11,
             color='#444444', family=lab_font)
    fig.text(fx(p['ylx']), fy((t + b) / 2), y_label, ha='center', va='center', fontsize=11,
             color='#444444', family=lab_font, rotation=90)

# titles
fig.text(fx(496), fy(106), title_left, ha='center', va='center', fontsize=28, family='Open Sans')

renderer = fig.canvas.get_renderer()
base_y = 111
t1 = fig.text(0, fy(base_y), title_right_parts[0], fontsize=28, family='Open Sans', style='italic',
              ha='left', va='baseline')
t2 = fig.text(0, fy(base_y - 15), title_right_parts[1], fontsize=15, family='Open Sans', style='italic',
              ha='left', va='baseline')
t3 = fig.text(0, fy(base_y), title_right_parts[2], fontsize=28, family='Open Sans',
              ha='left', va='baseline')
w1 = t1.get_window_extent(renderer).width
w2 = t2.get_window_extent(renderer).width
w3 = t3.get_window_extent(renderer).width
x0 = 1191 - (w1 + w2 + w3) / 2
t1.set_x(fx(x0))
t2.set_x(fx(x0 + w1 + 1))
t3.set_x(fx(x0 + w1 + w2 - 2))

# row labels
fig.text(fx(54), fy(273), row_labels[0], rotation=90, ha='center', va='center', fontsize=25, family=lab_font)
fig.text(fx(54), fy(602), row_labels[1], rotation=90, ha='center', va='center', fontsize=25, family=lab_font)
# panel letters
fig.text(fx(124), fy(108), panel_letters[0], ha='center', va='center', fontsize=26, family='Open Sans', weight='bold')
fig.text(fx(125), fy(462), panel_letters[1], ha='center', va='center', fontsize=26, family='Open Sans', weight='bold')
# top rule
fig.add_artist(Line2D([0, 1], [fy(2), fy(2)], color='#111111', lw=1.5))

fig.savefig('out.png', dpi=100)
